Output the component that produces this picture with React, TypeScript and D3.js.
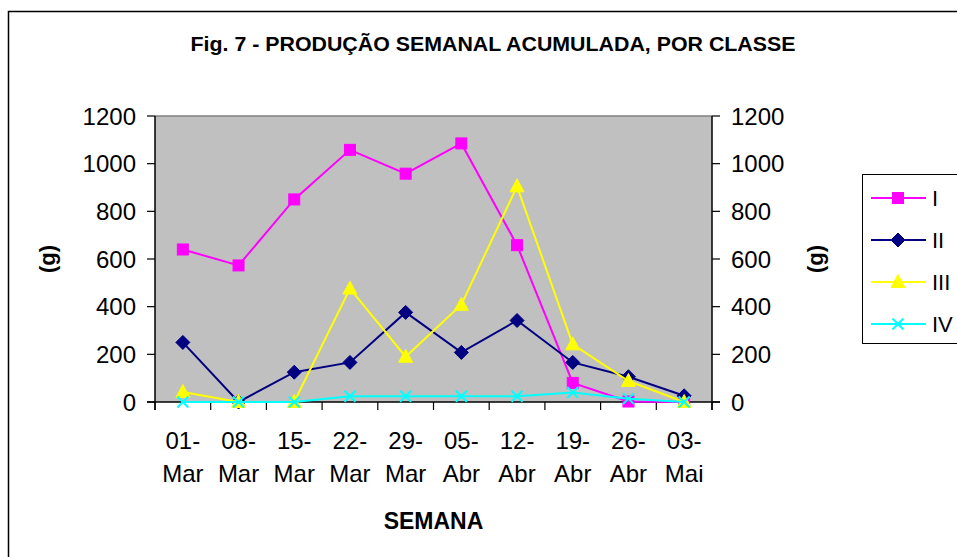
import React from "react";
import * as d3 from "d3";

const categoriesTop = ["01-", "08-", "15-", "22-", "29-", "05-", "12-", "19-", "26-", "03-"];
const categoriesBottom = ["Mar", "Mar", "Mar", "Mar", "Mar", "Abr", "Abr", "Abr", "Abr", "Mai"];
const seriesNames = ["I", "II", "III", "IV"];
const valuesI = [640, 573, 850, 1058, 958, 1085, 658, 80, 2, 0];
const valuesII = [250, 0, 125, 166, 376, 208, 342, 166, 106, 26];
const valuesIII = [42, 0, 0, 476, 190, 408, 905, 242, 88, 0];
const valuesIV = [0, 0, 0, 24, 24, 24, 24, 40, 14, 0];
const seriesColors = ["#FF00FF", "#000080", "#FFFF00", "#00FFFF"];
const markerTypes = ["square", "diamond", "triangle", "x"];
const yTicks = [0, 200, 400, 600, 800, 1000, 1200];
const title = "Fig. 7 - PRODUÇÃO SEMANAL ACUMULADA, POR CLASSE";
const xTitle = "SEMANA";
const yTitle = "(g)";

const FONT = "'Liberation Sans', Arial, sans-serif";

function Marker({ type, x, y, color }: { type: string; x: number; y: number; color: string }) {
  if (type === "square") {
    return <rect x={x - 5.5} y={y - 5.5} width={11} height={11} fill={color} stroke={color} strokeWidth={1} />;
  }
  if (type === "diamond") {
    return (
      <path
        d={`M${x},${y - 7} L${x + 7},${y} L${x},${y + 7} L${x - 7},${y} Z`}
        fill={color}
        stroke={color}
      />
    );
  }
  if (type === "triangle") {
    return (
      <path
        d={`M${x},${y - 7.5} L${x + 7},${y + 5.5} L${x - 7},${y + 5.5} Z`}
        fill={color}
        stroke={color}
      />
    );
  }
  return (
    <g stroke={color} strokeWidth={2}>
      <line x1={x - 5.5} y1={y - 5.5} x2={x + 5.5} y2={y + 5.5} />
      <line x1={x - 5.5} y1={y + 5.5} x2={x + 5.5} y2={y - 5.5} />
    </g>
  );
}

export default function App() {
  const left = 155;
  const right = 712;
  const top = 116;
  const bottom = 402;
  const data = [valuesI, valuesII, valuesIII, valuesIV];

  const x = d3.scaleBand<number>().domain(d3.range(categoriesTop.length)).range([left, right]).padding(0);
  const y = d3.scaleLinear().domain([0, 1200]).range([bottom, top]);
  const cx = (i: number) => (x(i) as number) + x.bandwidth() / 2;
  const line = d3
    .line<number>()
    .x((_, i) => cx(i))
    .y((v) => y(v));

  const boundaries = d3.range(categoriesTop.length + 1).map((i) => left + i * x.bandwidth());

  return (
    <svg
      width={957}
      height={557}
      style={{ position: "absolute", left: 0, top: 0, background: "#fff" }}
      fontFamily={FONT}
    >
      <rect x={0} y={0} width={957} height={557} fill="#fff" />
      <path d="M8.5,600 L8.5,11.5 L1000,11.5" fill="none" stroke="#000" strokeWidth={1.5} />

      <text
        x={493}
        y={51}
        textAnchor="middle"
        fontWeight="bold"
        fontSize={19.5}
        textLength={605}
        lengthAdjust="spacingAndGlyphs"
      >
        {title}
      </text>

      <rect x={left} y={top} width={right - left} height={bottom - top} fill="#C0C0C0" />
      <line x1={left} y1={top} x2={right} y2={top} stroke="#808080" strokeWidth={1.5} />

      <line x1={left} y1={top} x2={left} y2={bottom + 8} stroke="#000" strokeWidth={1.5} />
      <line x1={right} y1={top} x2={right} y2={bottom + 8} stroke="#000" strokeWidth={1.5} />
      <line x1={left - 8} y1={bottom} x2={right + 8} y2={bottom} stroke="#000" strokeWidth={1.5} />
      {yTicks.map((t) => (
        <g key={"yt" + t}>
          <line x1={left - 8} x2={left} y1={y(t)} y2={y(t)} stroke="#000" strokeWidth={1.2} />
          <line x1={right} x2={right + 8} y1={y(t)} y2={y(t)} stroke="#000" strokeWidth={1.2} />
          <text x={136} y={y(t) + 8.5} textAnchor="end" fontSize={24}>
            {t}
          </text>
          <text x={731} y={y(t) + 8.5} textAnchor="start" fontSize={24}>
            {t}
          </text>
        </g>
      ))}
      {boundaries.map((b, i) => (
        <line key={"xt" + i} x1={b} x2={b} y1={bottom} y2={bottom + 8} stroke="#000" strokeWidth={1.2} />
      ))}
      {categoriesTop.map((c, i) => (
        <g key={"xl" + i}>
          <text x={cx(i)} y={449} textAnchor="middle" fontSize={24}>
            {c}
          </text>
          <text x={cx(i)} y={482} textAnchor="middle" fontSize={24}>
            {categoriesBottom[i]}
          </text>
        </g>
      ))}
      <text x={(left + right) / 2} y={529} textAnchor="middle" fontSize={23} fontWeight="bold">
        {xTitle}
      </text>
      <text
        transform={`translate(55,${(top + bottom) / 2}) rotate(-90)`}
        textAnchor="middle"
        fontSize={22}
        fontWeight="bold"
      >
        {yTitle}
      </text>
      <text
        transform={`translate(823,${(top + bottom) / 2}) rotate(-90)`}
        textAnchor="middle"
        fontSize={22}
        fontWeight="bold"
      >
        {yTitle}
      </text>

      {data.map((vals, s) => (
        <g key={"s" + s}>
          <path d={line(vals) || ""} fill="none" stroke={seriesColors[s]} strokeWidth={2} />
          {vals.map((v, i) => (
            <Marker key={i} type={markerTypes[s]} x={cx(i)} y={y(v)} color={seriesColors[s]} />
          ))}
        </g>
      ))}

      <rect x={862.5} y={174.5} width={200} height={169} fill="#fff" stroke="#000" strokeWidth={1} />
      {seriesNames.map((n, s) => {
        const ly = 198 + s * 42;
        return (
          <g key={"lg" + s}>
            <line x1={871} x2={926} y1={ly} y2={ly} stroke={seriesColors[s]} strokeWidth={2} />
            <Marker type={markerTypes[s]} x={898} y={ly} color={seriesColors[s]} />
            <text x={932} y={ly + 8} fontSize={22}>
              {n}
            </text>
          </g>
        );
      })}
    </svg>
  );
}
